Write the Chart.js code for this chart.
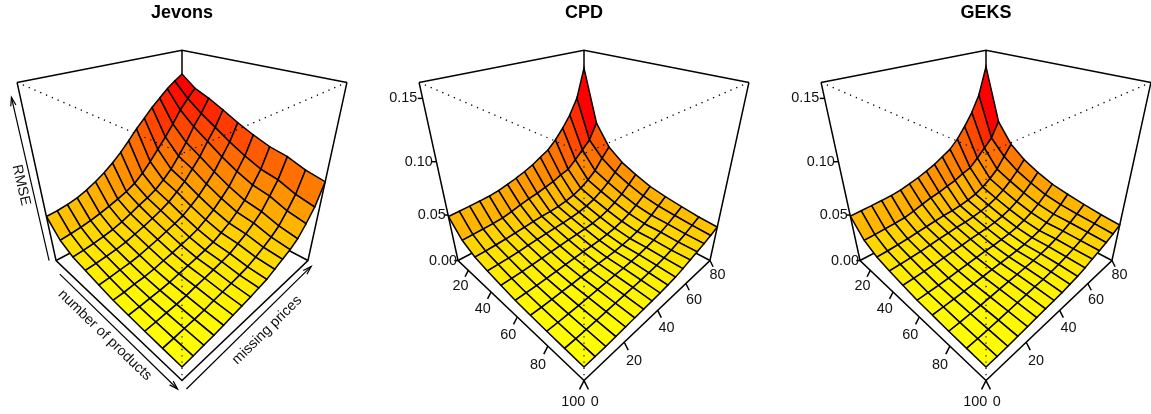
<!DOCTYPE html>
<html>
<head>
<meta charset="utf-8">
<title>RMSE surfaces</title>
<script src="https://cdn.jsdelivr.net/npm/chart.js@4"></script>
<style>
html, body { margin: 0; padding: 0; background: #fff; overflow: hidden; width: 1151px; height: 414px; }
canvas { position: absolute; top: 0; }
</style>
</head>
<body>
<canvas id="jevons" width="402" height="414" style="left:-19px"></canvas>
<canvas id="cpd" width="402" height="414" style="left:383px"></canvas>
<canvas id="geks" width="402" height="414" style="left:785px"></canvas>
<script>
const products = [10, 20, 30, 40, 50, 60, 70, 80, 90, 100];
const missingPrices = [0, 5, 10, 15, 20, 25, 30, 35, 40, 45, 50, 55, 60, 65, 70, 75, 80];
const zTicks = [0, 0.05, 0.10, 0.15];
const productTicks = [20, 40, 60, 80, 100];
const missingTicks = [0, 20, 40, 60, 80];
const zTop = 0.1613;

// one row per number of products, one column per share of missing prices
const jevonsRmse = [
    [.0485,.0495,.0512,.0535,.0572,.0618,.0672,.0736,.0810,.0895,.0985,.1065,.1145,.1215,.1285,.1340,.1390],
    [.0333,.0345,.0360,.0380,.0405,.0435,.0467,.0503,.0550,.0619,.0705,.0800,.0895,.1000,.1115,.1205,.1284],
    [.0262,.0272,.0286,.0303,.0325,.0355,.0392,.0435,.0470,.0515,.0578,.0655,.0755,.0865,.0995,.1100,.1225],
    [.0235,.0243,.0256,.0268,.0288,.0317,.0346,.0381,.0417,.0462,.0524,.0592,.0685,.0779,.0899,.1010,.1154],
    [.0205,.0212,.0225,.0235,.0253,.0278,.0303,.0333,.0363,.0400,.0455,.0517,.0599,.0686,.0802,.0918,.1077],
    [.0179,.0186,.0198,.0206,.0221,.0244,.0265,.0290,.0315,.0346,.0395,.0450,.0524,.0605,.0719,.0838,.1010],
    [.0166,.0172,.0182,.0190,.0202,.0222,.0240,.0260,.0281,.0307,.0350,.0399,.0464,.0540,.0652,.0771,.0954],
    [.0156,.0163,.0173,.0180,.0193,.0213,.0229,.0248,.0268,.0292,.0334,.0380,.0439,.0508,.0617,.0736,.0920],
    [.0148,.0155,.0164,.0171,.0182,.0200,.0214,.0229,.0246,.0265,.0302,.0343,.0390,.0451,.0552,.0669,.0860],
    [.0140,.0148,.0158,.0165,.0177,.0194,.0207,.0221,.0239,.0256,.0291,.0329,.0365,.0418,.0514,.0628,.0822]
];
const cpdRmse = [
    [.0485,.0490,.0495,.0502,.0510,.0525,.0550,.0575,.0606,.0642,.0690,.0735,.0811,.0907,.1019,.1168,.1448],
    [.0333,.0337,.0342,.0348,.0357,.0377,.0403,.0425,.0442,.0466,.0487,.0523,.0548,.0618,.0694,.0773,.0930],
    [.0262,.0264,.0270,.0277,.0287,.0296,.0306,.0314,.0319,.0328,.0344,.0367,.0403,.0457,.0524,.0628,.0720],
    [.0230,.0233,.0237,.0243,.0252,.0260,.0268,.0276,.0280,.0288,.0302,.0323,.0354,.0401,.0460,.0535,.0610],
    [.0202,.0204,.0208,.0213,.0221,.0228,.0235,.0243,.0247,.0254,.0265,.0283,.0311,.0352,.0403,.0470,.0540],
    [.0179,.0181,.0184,.0189,.0196,.0202,.0209,.0215,.0218,.0224,.0235,.0251,.0276,.0312,.0358,.0417,.0480],
    [.0166,.0167,.0171,.0176,.0181,.0188,.0194,.0199,.0202,.0208,.0218,.0233,.0255,.0289,.0332,.0386,.0444],
    [.0156,.0158,.0162,.0167,.0174,.0181,.0187,.0194,.0200,.0208,.0219,.0236,.0259,.0289,.0325,.0368,.0416],
    [.0148,.0150,.0154,.0160,.0167,.0174,.0181,.0188,.0194,.0203,.0215,.0232,.0254,.0282,.0314,.0352,.0391],
    [.0140,.0142,.0146,.0152,.0160,.0167,.0174,.0180,.0187,.0197,.0210,.0232,.0259,.0283,.0310,.0340,.0376]
];
const geksRmse = [
    [.0489,.0495,.0500,.0507,.0515,.0530,.0555,.0580,.0612,.0648,.0695,.0742,.0820,.0925,.1045,.1200,.1461],
    [.0333,.0337,.0343,.0350,.0360,.0382,.0410,.0435,.0452,.0478,.0500,.0537,.0565,.0637,.0715,.0795,.0945],
    [.0262,.0265,.0272,.0280,.0292,.0302,.0313,.0322,.0328,.0338,.0355,.0379,.0417,.0472,.0541,.0648,.0750],
    [.0230,.0234,.0239,.0246,.0256,.0265,.0274,.0283,.0288,.0297,.0312,.0334,.0366,.0414,.0475,.0552,.0640],
    [.0202,.0205,.0210,.0216,.0225,.0233,.0241,.0250,.0255,.0262,.0274,.0293,.0322,.0364,.0417,.0486,.0565],
    [.0179,.0182,.0186,.0192,.0200,.0207,.0215,.0222,.0225,.0232,.0243,.0260,.0286,.0323,.0371,.0432,.0505],
    [.0168,.0170,.0174,.0179,.0186,.0193,.0200,.0205,.0209,.0216,.0226,.0242,.0265,.0300,.0345,.0401,.0470],
    [.0156,.0159,.0164,.0170,.0178,.0186,.0193,.0200,.0207,.0216,.0228,.0246,.0271,.0302,.0340,.0384,.0440],
    [.0148,.0151,.0156,.0163,.0171,.0179,.0187,.0195,.0201,.0212,.0225,.0244,.0268,.0297,.0331,.0370,.0415],
    [.0140,.0143,.0148,.0155,.0163,.0170,.0178,.0185,.0192,.0204,.0218,.0240,.0268,.0294,.0322,.0356,.0397]
];

// persp view: phi 30, box in [-1,1], camera distance
const VIEW_DIST = 3.732;
const PX_PER_UNIT = 101;
const HORIZON_PX = 183.4;
const TITLE_BLOCK = 30;
const PHI = Math.PI / 6;
const FONT = '"Liberation Sans", Arial, sans-serif';
const INK = '#000000';

function view(a, b, c) {
    const sx = (a + b) / Math.SQRT2;
    const f = (a - b) / Math.SQRT2;
    const yc = c * Math.cos(PHI) - f * Math.sin(PHI);
    const zc = c * Math.sin(PHI) + f * Math.cos(PHI);
    const k = VIEW_DIST / (VIEW_DIST - zc);
    return { x: sx * k, y: yc * k };
}
const normA = p => (p - 55) / 45;
const normB = m => (m - 40) / 40;
const normC = z => z / zTop * 2 - 1;
const project = (p, m, z) => view(normA(p), normB(m), normC(z));

function line(points, extra) {
    return Object.assign({
        data: points,
        showLine: true,
        fill: false,
        tension: 0,
        pointRadius: 0,
        borderColor: INK,
        borderWidth: 1.5,
        borderJoinStyle: 'miter',
        borderCapStyle: 'butt'
    }, extra || {});
}

function arrow(from, to) {
    const dx = to.x - from.x, dy = to.y - from.y;
    const len = Math.hypot(dx, dy);
    const ux = dx / len, uy = dy / len;
    const headLen = 0.085, headWide = 0.026;
    const back = { x: to.x - ux * headLen, y: to.y - uy * headLen };
    return [
        line([from, to], { borderWidth: 1.2 }),
        line([
            { x: back.x - uy * headWide, y: back.y + ux * headWide },
            to,
            { x: back.x + uy * headWide, y: back.y - ux * headWide }
        ], { borderWidth: 1.2 })
    ];
}

function surface(rows) {
    const means = [];
    rows.forEach((row, i) => {
        if (i === rows.length - 1) return;
        row.forEach((v, j) => {
            if (j === row.length - 1) return;
            means.push((v + row[j + 1] + rows[i + 1][j] + rows[i + 1][j + 1]) / 4);
        });
    });
    const lo = Math.min(...means), hi = Math.max(...means);
    const sets = [];
    // back corner is few products / many missing
    for (let i = 0; i < products.length - 1; i++) {
        for (let j = missingPrices.length - 2; j >= 0; j--) {
            const z = [rows[i][j], rows[i][j + 1], rows[i + 1][j + 1], rows[i + 1][j]];
            const mean = (z[0] + z[1] + z[2] + z[3]) / 4;
            const g = Math.round(255 * (1 - (mean - lo) / (hi - lo)));
            const a = project(products[i], missingPrices[j], z[0]);
            const b = project(products[i], missingPrices[j + 1], z[1]);
            const c = project(products[i + 1], missingPrices[j + 1], z[2]);
            const d = project(products[i + 1], missingPrices[j], z[3]);
            sets.push(line([a, b, c, d, a], {
                fill: 'shape',
                backgroundColor: 'rgb(255,' + g + ',0)'
            }));
        }
    }
    return sets;
}

function boxBehind() {
    const lb = view(-1, -1, -1), lt = view(-1, -1, 1);
    const rb = view(1, 1, -1), rt = view(1, 1, 1);
    const fb = view(1, -1, -1);
    const bb = view(-1, 1, -1), bt = view(-1, 1, 1);
    return [
        line([lt, bt, rt]),
        line([bt, bb]),
        line([lb, bb, rb]),
        line([lt, lb, fb, rb, rt])
    ];
}

function boxFront() {
    const ft = view(1, -1, 1), fb = view(1, -1, -1);
    const lt = view(-1, -1, 1), rt = view(1, 1, 1);
    const dots = { borderDash: [1.3, 5], borderWidth: 1.2 };
    return [line([lt, ft], dots), line([rt, ft], dots), line([ft, fb], dots)];
}

// ticks and labels on the two bottom edges and the left vertical edge
function tickLines() {
    const sets = [];
    zTicks.forEach(t => {
        const c = normC(t);
        sets.push(line([view(-1, -1, c), view(-1.03, -1.03, c)]));
    });
    productTicks.forEach(t => {
        const a = normA(t);
        sets.push(line([view(a, -1, -1), view(a, -1.05, -1.06)]));
    });
    missingTicks.forEach(t => {
        const b = normB(t);
        sets.push(line([view(1, b, -1), view(1.05, b, -1.06)]));
    });
    return sets;
}

function tickLabels() {
    const labels = [];
    zTicks.forEach(t => labels.push(Object.assign(view(-1.12, -1.12, normC(t)), { text: t.toFixed(2) })));
    productTicks.forEach(t => labels.push(Object.assign(view(normA(t), -1.12, -1.145), { text: String(t) })));
    missingTicks.forEach(t => labels.push(Object.assign(view(1.12, normB(t), -1.145), { text: String(t) })));
    return labels;
}

function axisArrows() {
    return [].concat(
        arrow(view(-0.85, -1.05, -1.07), view(1, -1.05, -1.055)),
        arrow(view(1.05, -1, -1.055), view(1.05, 1, -1.055)),
        arrow(view(-1.055, -1.055, -1), view(-1.055, -1.055, 0.87))
    );
}

function axisLabels() {
    return [
        Object.assign(view(0.1, -1.13, -1.15), { text: 'number of products', rot: 44 }),
        Object.assign(view(1.15, 0, -1.15), { text: 'missing prices', rot: -44.5 }),
        Object.assign(view(-1.13, -1.13, -0.02), { text: 'RMSE', rot: 77 })
    ];
}

const panelText = {
    id: 'panelText',
    afterDraw(chart, args, opts) {
        const ctx = chart.ctx;
        ctx.save();
        ctx.font = '14.4px ' + FONT;
        ctx.fillStyle = '#111111';
        ctx.textAlign = 'center';
        ctx.textBaseline = 'middle';
        opts.items.forEach(item => {
            ctx.save();
            ctx.translate(chart.scales.x.getPixelForValue(item.x), chart.scales.y.getPixelForValue(item.y));
            ctx.rotate((item.rot || 0) * Math.PI / 180);
            ctx.fillText(item.text, 0, 0);
            ctx.restore();
        });
        ctx.restore();
    }
};

function drawPanel(id, title, rows, withAxisLabels) {
    const canvas = document.getElementById(id);
    const halfWidth = canvas.width / 2 / PX_PER_UNIT;
    // painted back to front, chart.js paints the last dataset first
    const ordered = [].concat(
        boxBehind(),
        withAxisLabels ? axisArrows() : tickLines(),
        surface(rows),
        boxFront()
    ).reverse();
    return new Chart(canvas, {
        type: 'scatter',
        data: { datasets: ordered },
        plugins: [panelText],
        options: {
            responsive: false,
            animation: false,
            layout: { padding: 0 },
            events: [],
            scales: {
                x: { type: 'linear', display: false, min: -halfWidth, max: halfWidth },
                y: {
                    type: 'linear',
                    display: false,
                    min: -(canvas.height - HORIZON_PX) / PX_PER_UNIT,
                    max: (HORIZON_PX - TITLE_BLOCK) / PX_PER_UNIT
                }
            },
            plugins: {
                legend: { display: false },
                tooltip: { enabled: false },
                title: {
                    display: true,
                    text: title,
                    color: '#000000',
                    padding: { top: 2, bottom: 6.4 },
                    font: { family: FONT, size: 18, weight: 'bold', lineHeight: 1.2 }
                },
                panelText: { items: withAxisLabels ? axisLabels() : tickLabels() }
            }
        }
    });
}

drawPanel('jevons', 'Jevons', jevonsRmse, true);
drawPanel('cpd', 'CPD', cpdRmse, false);
drawPanel('geks', 'GEKS', geksRmse, false);
</script>
</body>
</html>
